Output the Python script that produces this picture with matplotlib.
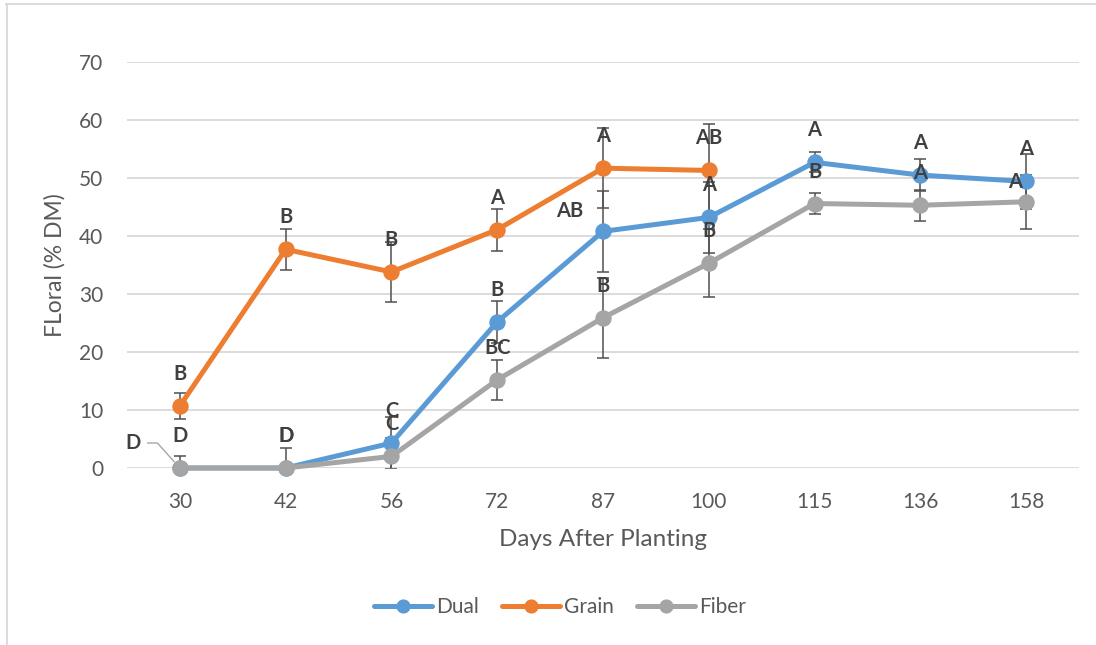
import matplotlib
matplotlib.use('Agg')
import matplotlib.pyplot as plt
from matplotlib.lines import Line2D

plt.rcParams['font.family'] = ['Lato', 'DejaVu Sans']

days = ['30', '42', '56', '72', '87', '100', '115', '136', '158']

dual = [0.0, 0.0, 4.3, 25.2, 40.8, 43.2, 52.7, 50.5, 49.4]
dual_err = [0.0, 0.0, 4.5, 3.6, 7.0, 6.1, 1.7, 2.8, 4.7]
dual_letters = ['D', 'D', 'C', 'B', 'AB', 'A', 'A', 'A', 'A']

grain = [10.7, 37.7, 33.8, 41.1, 51.7, 51.3]
grain_err = [2.2, 3.5, 5.2, 3.6, 6.9, 8.0]
grain_letters = ['B', 'B', 'B', 'A', 'A', 'AB']

fiber = [0.0, 0.0, 2.0, 15.2, 25.9, 35.3, 45.6, 45.3, 45.9]
fiber_err = [2.1, 3.4, 3.2, 3.5, 6.9, 5.9, 1.8, 2.7, 4.7]
fiber_letters = ['D', 'D', 'C', 'BC', 'B', 'B', 'B', 'A', 'A']

c_dual = '#5B9BD5'
c_grain = '#ED7D31'
c_fiber = '#A5A5A5'
c_err = '#505050'
c_text = '#404040'
c_tick = '#595959'
c_grid = '#D9D9D9'

W, H = 1096, 645
fig = plt.figure(figsize=(W / 100, H / 100), dpi=100)
ax = fig.add_axes([127 / W, 1 - 468 / H, 952 / W, 406 / H])

series = [
    ('Dual', dual, dual_err, dual_letters, c_dual),
    ('Grain', grain, grain_err, grain_letters, c_grain),
    ('Fiber', fiber, fiber_err, fiber_letters, c_fiber),
]

# error bars sit under the lines and markers
for name, vals, err, letters, col in series:
    x = list(range(len(vals)))
    ax.errorbar(x, vals, yerr=err, fmt='none', ecolor=c_err,
                elinewidth=1.1, capsize=4.3, capthick=1.1, zorder=2)

for name, vals, err, letters, col in series:
    x = list(range(len(vals)))
    ax.plot(x, vals, color=col, lw=3.6, marker='o', markersize=10.8,
            solid_capstyle='round', label=name, zorder=3, clip_on=False)

# letter labels: default 32 px above the point, a few moved by hand
moved = {('Dual', 4): (-33, 20), ('Fiber', 8): (-11, 20)}
for name, vals, err, letters, col in series:
    for i, (v, lab) in enumerate(zip(vals, letters)):
        if name == 'Dual' and i == 0:
            ax.annotate(lab, xy=(i, v), xytext=(-47, 25),
                        textcoords='offset pixels', ha='center', va='center',
                        fontsize=14.5, fontweight='bold', color=c_text, zorder=5,
                        arrowprops=dict(arrowstyle='-', color='#A6A6A6', lw=1.0,
                                        relpos=(1, 0.5), shrinkA=3, shrinkB=6,
                                        connectionstyle='angle,angleA=0,angleB=132,rad=0'))
            continue
        dx, dy = moved.get((name, i), (0, 32))
        ax.annotate(lab, xy=(i, v), xytext=(dx, dy), textcoords='offset pixels',
                    ha='center', va='center', fontsize=14.5, fontweight='bold',
                    color=c_text, zorder=5)

ax.set_xlim(-0.5, len(days) - 0.5)
ax.set_ylim(0, 70)
ax.set_yticks(range(0, 71, 10))
ax.set_xticks(range(len(days)))
ax.set_xticklabels(days)
ax.yaxis.grid(True, color=c_grid, lw=1.3)
ax.set_axisbelow(True)
for s in ax.spines.values():
    s.set_visible(False)
ax.tick_params(axis='both', length=0, labelsize=15, labelcolor=c_tick)
ax.tick_params(axis='x', pad=17)
ax.tick_params(axis='y', pad=17)

ax.set_xlabel('Days After Planting', fontsize=17.5, color=c_tick)
ax.xaxis.label.set_va('center')
ax.xaxis.set_label_coords(0.5, (468 - 540) / 406)
ax.set_ylabel('FLoral (% DM)', fontsize=16.5, color=c_tick)
ax.yaxis.label.set_va('center')
ax.yaxis.set_label_coords((55 - 127) / 952, 0.5)

leg = fig.legend(loc='center', bbox_to_anchor=(560 / W, 1 - 607 / H), ncol=3,
                 frameon=False, fontsize=15, handlelength=2.8, handletextpad=0.2,
                 columnspacing=1.1, labelcolor=c_tick, markerscale=0.85)

# chart border (top and left edges)
fig.add_artist(Line2D([6 / W, 1], [1 - 4 / H, 1 - 4 / H], color=c_grid, lw=1.3,
                      transform=fig.transFigure))
fig.add_artist(Line2D([7 / W, 7 / W], [0, 1 - 4 / H], color=c_grid, lw=1.3,
                      transform=fig.transFigure))

fig.savefig('out.png', dpi=100)
